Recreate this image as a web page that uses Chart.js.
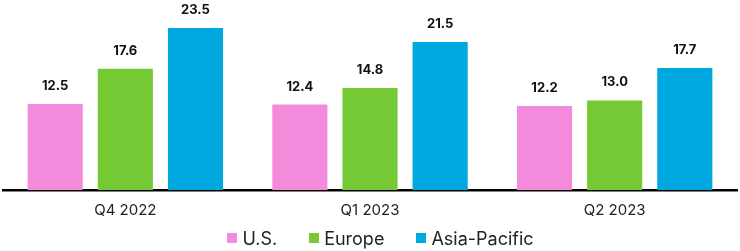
<!DOCTYPE html>
<html>
<head>
<meta charset="utf-8">
<script src="https://cdn.jsdelivr.net/npm/chart.js@4/dist/chart.umd.min.js"></script>
<style>
  html, body { margin: 0; padding: 0; background: #fff; overflow: hidden; }
  #wrap { width: 740px; height: 237px; }
  #legend {
    position: relative;
    display: flex;
    justify-content: center;
    align-items: center;
    height: 26px;
    margin-top: -12px;
    margin-left: 21px;
    font-family: Inter, "Open Sans", sans-serif;
    font-size: 18px;
    color: #222;
  }
  .legend-item { display: flex; align-items: center; margin: 0 16px; }
  .legend-box { width: 10px; height: 10px; margin-right: 5px; }
</style>
</head>
<body>
<div id="wrap"><canvas id="bar-chart"></canvas></div>
<div id="legend"></div>
<script>
const quarters = ["Q4 2022", "Q1 2023", "Q2 2023"];
const usValues = [12.5, 12.4, 12.2];
const europeValues = [17.6, 14.8, 13.0];
const asiaPacificValues = [23.5, 21.5, 17.7];

const fontFamily = "Inter, 'Open Sans', sans-serif";

// draws the value above each bar
const valueLabels = {
  id: "valueLabels",
  afterDatasetsDraw(chart) {
    const ctx = chart.ctx;
    ctx.save();
    ctx.font = "bold 13px " + fontFamily;
    ctx.fillStyle = "#111";
    ctx.textAlign = "center";
    ctx.textBaseline = "alphabetic";
    chart.data.datasets.forEach((dataset, i) => {
      chart.getDatasetMeta(i).data.forEach((bar, j) => {
        ctx.fillText(dataset.data[j].toFixed(1), bar.x, bar.y - 14);
      });
    });
    ctx.restore();
  }
};

const ctx = document.querySelector("#bar-chart");
const data = {
  labels: quarters,
  datasets: [
    { label: "U.S.", data: usValues, backgroundColor: "#F48ADB" },
    { label: "Europe", data: europeValues, backgroundColor: "#74C934" },
    { label: "Asia-Pacific", data: asiaPacificValues, backgroundColor: "#00A8E0" }
  ]
};
const options = {
  responsive: true,
  maintainAspectRatio: false,
  animation: false,
  categoryPercentage: 0.86,
  barPercentage: 0.786,
  layout: {
    padding: { top: 4, left: 3, right: 3, bottom: 6 }
  },
  scales: {
    x: {
      grid: { display: false, drawTicks: false },
      border: { display: true, color: "#000", width: 2.5 },
      ticks: {
        color: "#222",
        padding: 11.5,
        font: { family: fontFamily, size: 15 }
      }
    },
    y: {
      display: false,
      min: 0,
      max: 27
    }
  },
  plugins: {
    legend: { display: false },
    tooltip: { enabled: false }
  }
};
const barChart = new Chart(ctx, {
  type: "bar",
  data: data,
  options: options,
  plugins: [valueLabels]
});

// html legend built from the chart's datasets
function buildLegend(chart) {
  const legendElement = document.querySelector("#legend");
  chart.data.datasets.forEach((dataset) => {
    const item = document.createElement("div");
    item.className = "legend-item";
    const box = document.createElement("span");
    box.className = "legend-box";
    box.style.background = dataset.backgroundColor;
    const text = document.createElement("span");
    text.textContent = dataset.label;
    item.appendChild(box);
    item.appendChild(text);
    legendElement.appendChild(item);
  });
}
buildLegend(barChart);
</script>
</body>
</html>
